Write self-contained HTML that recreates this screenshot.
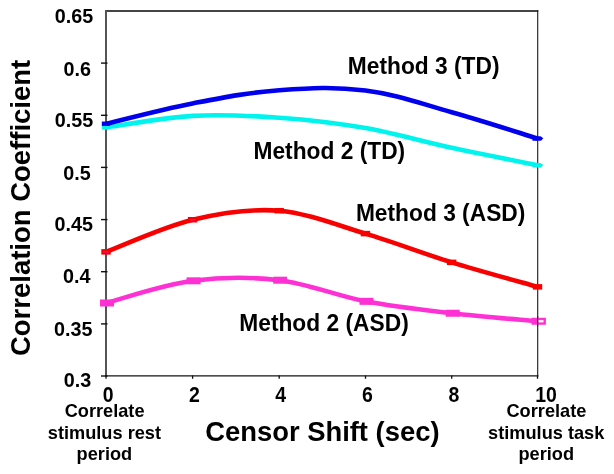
<!DOCTYPE html>
<html><head><meta charset="utf-8"><style>
html,body{margin:0;padding:0;background:#fff;width:614px;height:474px;overflow:hidden}
svg{display:block;filter:blur(0.3px)}
text{font-family:"Liberation Sans",Arial,sans-serif;font-weight:bold;fill:#000}
</style></head><body>
<svg width="614" height="474" viewBox="0 0 614 474">
<line x1="105" y1="11" x2="538.3" y2="11" stroke="#454545" stroke-width="1.8"/>
<line x1="537.7" y1="10.2" x2="537.7" y2="376.5" stroke="#1a1a1a" stroke-width="1.1"/>
<line x1="106" y1="10.2" x2="106" y2="376.5" stroke="#555" stroke-width="2"/>
<line x1="105" y1="375.8" x2="538.4" y2="375.8" stroke="#151515" stroke-width="1.3"/>
<line x1="101" y1="63.1" x2="107.5" y2="63.1" stroke="#111" stroke-width="1.4"/>
<line x1="101" y1="115.3" x2="107.5" y2="115.3" stroke="#111" stroke-width="1.4"/>
<line x1="101" y1="167.4" x2="107.5" y2="167.4" stroke="#111" stroke-width="1.4"/>
<line x1="101" y1="219.6" x2="107.5" y2="219.6" stroke="#111" stroke-width="1.4"/>
<line x1="101" y1="271.7" x2="107.5" y2="271.7" stroke="#111" stroke-width="1.4"/>
<line x1="101" y1="323.9" x2="107.5" y2="323.9" stroke="#111" stroke-width="1.4"/>
<line x1="101" y1="376" x2="107.5" y2="376" stroke="#111" stroke-width="1.4"/>
<line x1="106" y1="375.5" x2="106" y2="378.8" stroke="#111" stroke-width="1.3"/>
<line x1="192.6" y1="375.5" x2="192.6" y2="378.8" stroke="#111" stroke-width="1.3"/>
<line x1="279.2" y1="375.5" x2="279.2" y2="378.8" stroke="#111" stroke-width="1.3"/>
<line x1="365.5" y1="375.5" x2="365.5" y2="378.8" stroke="#111" stroke-width="1.3"/>
<line x1="451.7" y1="375.5" x2="451.7" y2="378.8" stroke="#111" stroke-width="1.3"/>
<line x1="537.5" y1="375.5" x2="537.5" y2="378.8" stroke="#111" stroke-width="1.3"/>
<path d="M106.00,127.35 C119.30,125.58 166.00,117.30 192.60,115.83 C219.20,114.36 252.64,115.87 279.20,117.75 C305.76,119.63 339.00,123.49 365.50,128.09 C392.00,132.69 425.28,142.02 451.70,147.72 C478.12,153.42 524.32,162.52 537.50,165.21" fill="none" stroke="#00f4ee" stroke-width="4.6" stroke-linejoin="round"/>
<rect x="101.8" y="125.15" width="8" height="4.4" fill="#00f4ee"/>
<polygon points="532.5,162.91 540.5,162.91 543.3,164.91 541,167.51 532.5,167.51" fill="#00f4ee"/>
<path d="M106.00,123.73 C122.00,119.97 160.59,109.57 192.60,103.39 C224.61,97.21 247.25,92.66 279.20,90.29 C311.15,87.92 333.62,86.55 365.50,90.59 C397.38,94.63 419.91,103.32 451.70,112.17 C483.49,121.02 521.64,133.60 537.50,138.46" fill="none" stroke="#0000ee" stroke-width="4.6" stroke-linejoin="round"/>
<rect x="101.8" y="121.53" width="8" height="4.4" fill="#0000ee"/>
<polygon points="532.5,136.16 540.5,136.16 543.3,138.16 541,140.76 532.5,140.76" fill="#0000ee"/>
<path d="M106.00,302.98 C120.66,299.23 163.28,284.68 192.60,280.82 C221.92,276.96 249.93,276.73 279.20,280.20 C308.47,283.67 336.30,295.74 365.50,301.33 C394.70,306.92 422.58,309.87 451.70,313.24 C480.82,316.61 522.97,319.90 537.50,321.26" fill="none" stroke="#ff30d4" stroke-width="4.6" stroke-linejoin="round"/>
<rect x="100.90" y="300.38" width="12.2" height="5.2" fill="#ff30d4" stroke="#ff30d4" stroke-width="1.8"/>
<rect x="187.50" y="278.22" width="12.2" height="5.2" fill="#ff30d4" stroke="#ff30d4" stroke-width="1.8"/>
<rect x="274.10" y="277.60" width="12.2" height="5.2" fill="#ff30d4" stroke="#ff30d4" stroke-width="1.8"/>
<rect x="360.40" y="298.73" width="12.2" height="5.2" fill="#ff30d4" stroke="#ff30d4" stroke-width="1.8"/>
<rect x="446.60" y="310.64" width="12.2" height="5.2" fill="#ff30d4" stroke="#ff30d4" stroke-width="1.8"/>
<rect x="532.70" y="318.96" width="12" height="4.6" fill="none" stroke="#ff30d4" stroke-width="2.4"/>
<line x1="537.7" y1="316.26" x2="537.7" y2="326.26" stroke="#1a1a1a" stroke-width="1.1" opacity="0.8"/>
<path d="M106.00,251.87 C119.66,246.80 165.29,226.22 192.60,219.73 C219.91,213.24 251.93,208.52 279.20,210.71 C306.47,212.90 338.30,225.46 365.50,233.60 C392.70,241.74 424.58,253.95 451.70,262.35 C478.82,270.75 523.97,282.99 537.50,286.86" fill="none" stroke="#f80000" stroke-width="4.6" stroke-linejoin="round"/>
<rect x="102.40" y="250.22" width="7.2" height="3.3" fill="#e010c8" stroke="#f80000" stroke-width="2.2"/>
<rect x="189.00" y="218.08" width="7.2" height="3.3" fill="#e010c8" stroke="#f80000" stroke-width="2.2"/>
<rect x="275.60" y="209.06" width="7.2" height="3.3" fill="#f80000" stroke="#f80000" stroke-width="2.2"/>
<rect x="361.90" y="231.95" width="7.2" height="3.3" fill="#f80000" stroke="#f80000" stroke-width="2.2"/>
<rect x="448.10" y="260.70" width="7.2" height="3.3" fill="#f80000" stroke="#f80000" stroke-width="2.2"/>
<rect x="533.90" y="285.21" width="7.2" height="3.3" fill="#f80000" stroke="#f80000" stroke-width="2.2"/>
<text transform="translate(93.15,23.49) scale(0.9650,1.0300)" text-anchor="end" font-size="20.5">0.65</text>
<text transform="translate(90.92,75.87) scale(0.9650,1.0300)" text-anchor="end" font-size="20.5">0.6</text>
<text transform="translate(93.16,127.25) scale(0.9650,1.0300)" text-anchor="end" font-size="20.5">0.55</text>
<text transform="translate(90.65,180.40) scale(0.9650,1.0300)" text-anchor="end" font-size="20.5">0.5</text>
<text transform="translate(92.94,230.69) scale(0.9650,1.0300)" text-anchor="end" font-size="20.5">0.45</text>
<text transform="translate(90.40,283.27) scale(0.9650,1.0300)" text-anchor="end" font-size="20.5">0.4</text>
<text transform="translate(92.55,336.40) scale(0.9650,1.0300)" text-anchor="end" font-size="20.5">0.35</text>
<text transform="translate(91.16,387.34) scale(0.9650,1.0300)" text-anchor="end" font-size="20.5">0.3</text>
<text transform="translate(108.15,401.60) scale(0.9500,1.0800)" text-anchor="middle" font-size="20.5">0</text>
<text transform="translate(194.35,401.60) scale(0.9500,1.0800)" text-anchor="middle" font-size="20.5">2</text>
<text transform="translate(280.60,401.60) scale(0.9500,1.0800)" text-anchor="middle" font-size="20.5">4</text>
<text transform="translate(367.30,401.60) scale(0.9500,1.0800)" text-anchor="middle" font-size="20.5">6</text>
<text transform="translate(453.95,401.60) scale(0.9500,1.0800)" text-anchor="middle" font-size="20.5">8</text>
<text transform="translate(546.00,401.60) scale(0.9500,1.0800)" text-anchor="middle" font-size="20.5">10</text>
<text transform="translate(347.78,73.90) scale(0.9990,1.0360)" text-anchor="start" font-size="22.8">Method 3 (TD)</text>
<text transform="translate(253.47,158.69) scale(0.9990,1.0360)" text-anchor="start" font-size="22.8">Method 2 (TD)</text>
<text transform="translate(355.90,221.34) scale(0.9990,1.0360)" text-anchor="start" font-size="22.8">Method 3 (ASD)</text>
<text transform="translate(239.27,330.53) scale(0.9990,1.0360)" text-anchor="start" font-size="22.8">Method 2 (ASD)</text>
<text transform="translate(205.25,441.41) scale(0.9961,0.9984)" text-anchor="start" font-size="27.5">Censor Shift (sec)</text>
<text transform="translate(29.96,356.05) rotate(-90) scale(0.9997,0.9850)" text-anchor="start" font-size="27.5">Correlation Coefficient</text>
<text transform="translate(104.60,416.80) scale(1.0000,1.0600)" text-anchor="middle" font-size="18.2">Correlate</text>
<text transform="translate(104.40,438.60) scale(1.0000,1.0600)" text-anchor="middle" font-size="18.2">stimulus rest</text>
<text transform="translate(104.40,460.40) scale(1.0000,1.0600)" text-anchor="middle" font-size="18.2">period</text>
<text transform="translate(546.40,416.80) scale(1.0000,1.0600)" text-anchor="middle" font-size="18.2">Correlate</text>
<text transform="translate(546.20,438.60) scale(1.0000,1.0600)" text-anchor="middle" font-size="18.2">stimulus task</text>
<text transform="translate(546.20,460.40) scale(1.0000,1.0600)" text-anchor="middle" font-size="18.2">period</text>
</svg>
</body></html>
